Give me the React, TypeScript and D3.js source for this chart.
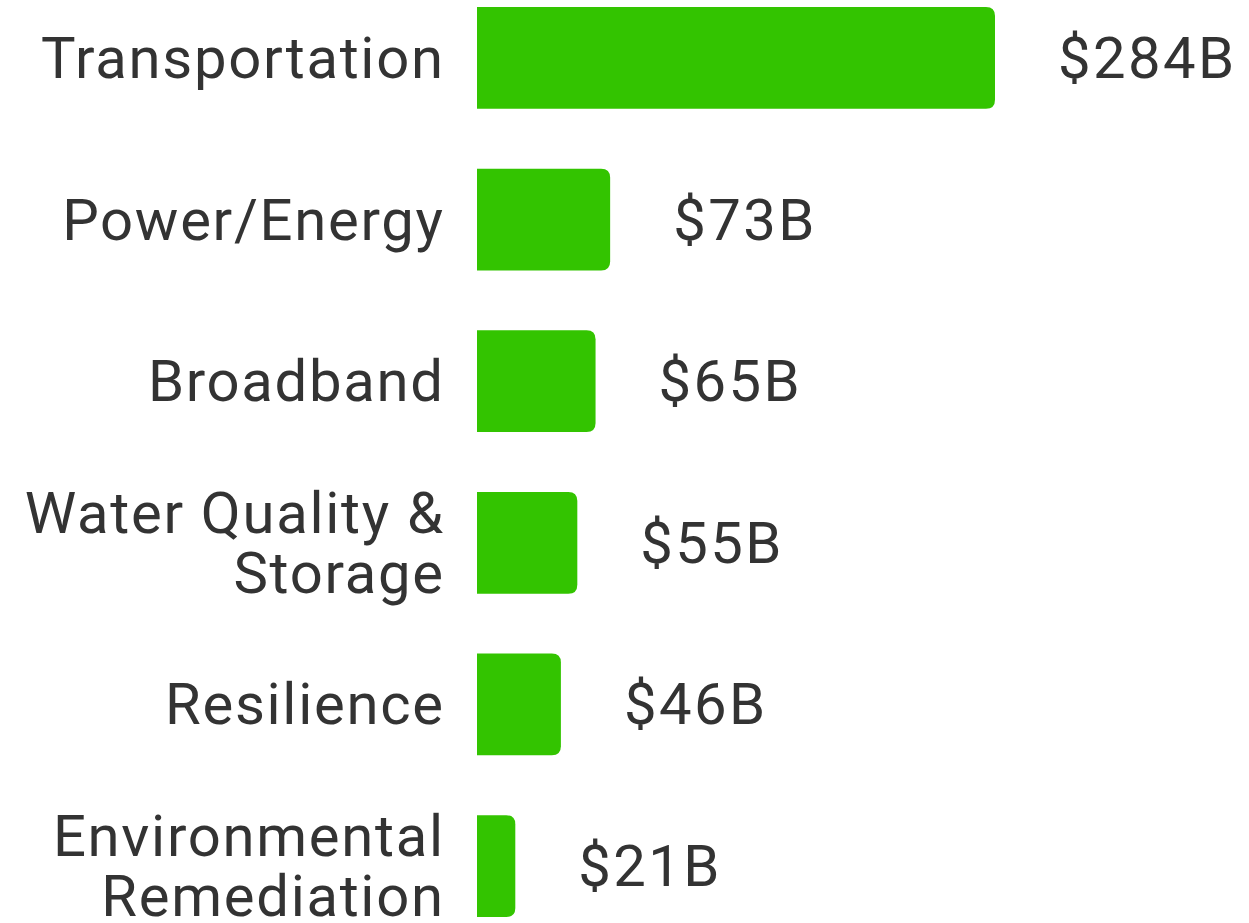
import React from "react";
import * as d3 from "d3";

const categories = ["Transportation", "Power/Energy", "Broadband", "Water Quality & Storage", "Resilience", "Environmental Remediation"];
const labelLines = [["Transportation"], ["Power/Energy"], ["Broadband"], ["Water Quality &", "Storage"], ["Resilience"], ["Environmental", "Remediation"]];
const values = [284, 73, 65, 55, 46, 21];
const valueLabels = ["$284B", "$73B", "$65B", "$55B", "$46B", "$21B"];

const W = 1249;
const H = 923;
const FONT = "Roboto, 'Noto Sans', sans-serif";

function barPath(x0: number, x1: number, y0: number, h: number, r: number) {
  const rr = Math.min(r, (x1 - x0) / 2, h / 2);
  return `M${x0},${y0}H${x1 - rr}Q${x1},${y0} ${x1},${y0 + rr}V${y0 + h - rr}Q${x1},${y0 + h} ${x1 - rr},${y0 + h}H${x0}Z`;
}

export default function App() {
  const x = d3.scaleLinear().domain([0, 284]).range([477, 995]);
  const y = d3.scaleBand<string>().domain(categories).range([7, 917]).paddingInner(0.37).paddingOuter(0);
  const bw = y.bandwidth();
  const ls = 1.7;
  return (
    <svg width={W} height={H} style={{ position: "absolute", left: 0, top: 0, background: "#fff" }} fontFamily={FONT}>
      {categories.map((c, i) => {
        const y0 = y(c)!;
        const cy = y0 + bw / 2;
        const lines = labelLines[i];
        const lh = 60;
        return (
          <g key={c}>
            <path d={barPath(x(0), x(values[i]), y0, bw, 9)} fill="#33c400" />
            {lines.map((ln, j) => (
              <text key={j} x={443 + ls} y={cy + 20 + (j - (lines.length - 1) / 2) * lh} textAnchor="end" fontSize={58} letterSpacing={ls} fill="#333">
                {ln}
              </text>
            ))}
            <text x={x(values[i]) + 63} y={cy + 20} fontSize={58} letterSpacing={2.4} fill="#333">
              {valueLabels[i]}
            </text>
          </g>
        );
      })}
    </svg>
  );
}
